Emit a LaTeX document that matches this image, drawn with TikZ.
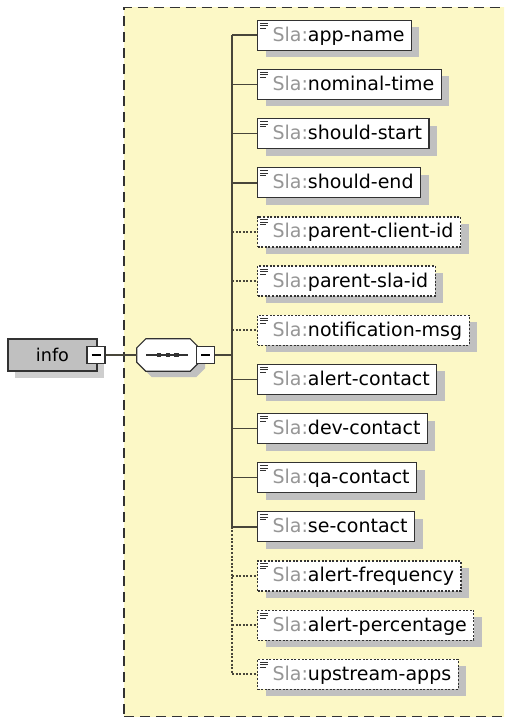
\documentclass[tikz,border=0pt]{standalone}
\usepackage{fontspec}
\setmainfont{DejaVu Sans}
\usepackage{xcolor}
\usepackage{tikz}
\usetikzlibrary{positioning, shadows}
\definecolor{paneyellow}{RGB}{252,248,198}
\definecolor{ink}{RGB}{50,50,50}
\definecolor{trunkink}{RGB}{72,70,58}
\definecolor{shade}{RGB}{192,192,192}
\definecolor{infofill}{RGB}{192,192,192}
\definecolor{infoshade}{RGB}{206,206,206}
\definecolor{nsgrey}{RGB}{150,150,150}

\begin{document}
\begin{tikzpicture}[x=1pt, y=-1pt, font=\fontsize{19}{23}\selectfont,
    elemreq/.style={rectangle, draw=ink, line width=1.2pt, fill=white, anchor=west,
      minimum height=30pt, inner xsep=7pt, inner ysep=0pt, text height=14pt, text depth=2pt,
      drop shadow={shadow xshift=8pt, shadow yshift=-7pt, fill=shade, opacity=1}},
    elemopt/.style={elemreq, dash pattern=on 2pt off 1.6pt},
    linkreq/.style={draw=trunkink, line width=1.6pt},
    linkopt/.style={linkreq, dash pattern=on 2pt off 1.6pt},
    iconline/.style={draw=ink, line width=0.9pt},
    minusbox/.style={rectangle, draw=ink, line width=1.2pt, fill=white,
      minimum width=18pt, minimum height=17pt, inner sep=0pt},
    octshadow/.style={fill=shade, transform canvas={xshift=6pt, yshift=-6pt}},
    octbody/.style={draw=ink, line width=1.2pt, fill=white},
    panedash/.style={draw=ink, line width=1.5pt, dash pattern=on 10pt off 6pt}]
  \useasboundingbox (0,0) rectangle (504,717);
  \clip (0,0) rectangle (504,717);

  % yellow group pane
  \fill[paneyellow] (124,7.5) rectangle (530,730);
  \draw[panedash] (124,730) -- (124,7.5) -- (530,7.5);
  \draw[panedash] (124,717) -- (530,717);

  % info element and its sequence
  \node[rectangle, draw=ink, line width=1.2pt, fill=infofill, minimum width=89pt, minimum height=32pt,
        font=\fontsize{17.6}{21}\selectfont,
        drop shadow={shadow xshift=7pt, shadow yshift=-7pt, fill=infoshade, opacity=1}]
    (info) at (52.5,355) {info};
  \node[minusbox] (infominus) at (96,355) {\rule{9pt}{1.2pt}};
  \node[rectangle, minimum width=62pt, minimum height=32pt, inner sep=0pt] (seq) at (168,355) {};
  \foreach \look in {octshadow, octbody}
    \path[\look]
      ([xshift=9pt]seq.north west) -- ([xshift=-9pt]seq.north east)
      -- ([yshift=-9pt]seq.north east) -- ([yshift=9pt]seq.south east)
      -- ([xshift=-9pt]seq.south east) -- ([xshift=9pt]seq.south west)
      -- ([yshift=9pt]seq.south west) -- ([yshift=-9pt]seq.north west) -- cycle;
  \draw[ink, line width=1.2pt] ([xshift=-22pt]seq.center) -- ([xshift=20pt]seq.center);
  \foreach \dx in {-9,0,8.5}
    \fill[ink] ([xshift=\dx pt]seq.center) ++(-2.4,-2.4) rectangle ++(4.8,4.8);
  \node[minusbox] (seqminus) at (205.5,355) {\rule{9pt}{1.2pt}};
  \coordinate (trseq) at (232,355);
  \draw[linkreq] (infominus) -- (seq);
  \draw[linkreq] (seqminus) -- (trseq);

  % child elements
  \foreach \elname/\elkind [count=\i from 0] in {app-name/req, nominal-time/req, should-start/req,
      should-end/req, parent-client-id/opt, parent-sla-id/opt, notification-msg/opt,
      alert-contact/req, dev-contact/req, qa-contact/req, se-contact/req,
      alert-frequency/opt, alert-percentage/opt, upstream-apps/opt}{
    \pgfmathsetmacro\rowy{35.3+49.15*\i}
    \coordinate (tr\i) at (232,\rowy);
    \node[elem\elkind] (el\i) at (257,\rowy) {\hspace*{8pt}\textcolor{nsgrey}{Sla:}\elname};
    \draw[link\elkind] (tr\i) -- (el\i.west);
    \foreach \dy/\len in {3.5/8, 6/8, 8.5/6}
      \draw[iconline] ([xshift=3pt, yshift=-\dy pt]el\i.north west) -- ++(\len,0);
  }
  \draw[linkreq] (tr0) -- (tr10);
  \draw[linkopt] (tr10) -- (tr13);
\end{tikzpicture}
\end{document}
